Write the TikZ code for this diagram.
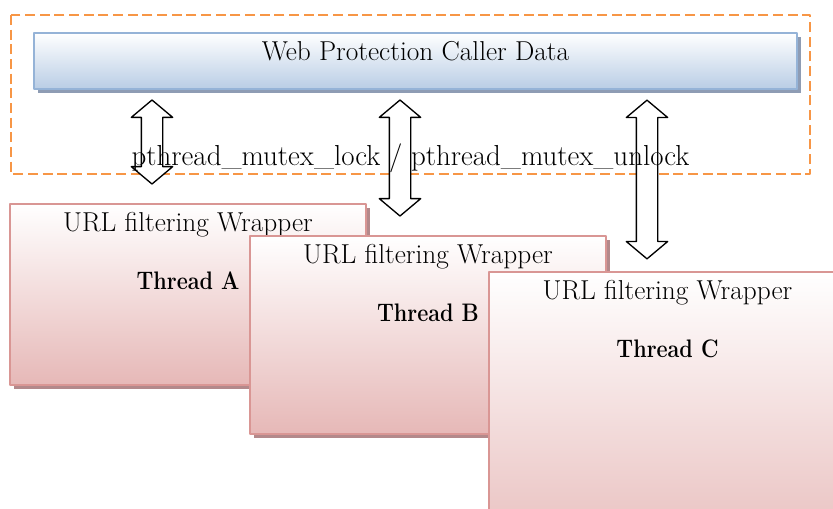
\documentclass[tikz,border=0pt]{standalone}
\usetikzlibrary{shapes.arrows}
\definecolor{lockorange}{HTML}{F79646}
\definecolor{barblue}{HTML}{B9CDE5}
\definecolor{barline}{HTML}{95B3D7}
\definecolor{barshade}{HTML}{8E9CB4}
\definecolor{thrpink}{HTML}{E6B8B7}
\definecolor{thrline}{HTML}{D99694}
\definecolor{thrshade}{HTML}{B3898B}
\tikzset{
	dblarrow/.style={double arrow,draw=black,fill=white,line width=1pt,rotate=90,minimum width=0pt,inner xsep=0pt,inner ysep=7.5pt,double arrow head extend=7.5pt,double arrow tip angle=100},
	thrtitle/.style={anchor=base},
	thrname/.style={anchor=base,font=\fontsize{19}{22}\selectfont\bfseries}
}
\begin{document}
\begin{tikzpicture}[x=0.75pt,y=-0.75pt,line join=round,font=\fontsize{20.5}{24}\selectfont]
				\useasboundingbox (0,0) rectangle (833,508);
				\clip (0,0) rectangle (833,508);
				\path
				(11,15) coordinate (L1)
				(810,174) coordinate (L2)
				(34,33) coordinate (D1)
				(797,89) coordinate (D2)
				;
				\draw[lockorange,line width=2pt,dash pattern=on 7.5pt off 3.5pt] (L1) rectangle (L2);
				\fill[barshade] ([shift={(4,4)}]D1) rectangle ([shift={(4,4)}]D2);
				\shade[top color=white,bottom color=barblue,draw=barline,line width=1.5pt] (D1) rectangle (D2);
				\node[anchor=base] (data) at (415.5,60) {Web Protection Caller Data};
				\foreach \n/\l/\t/\r/\b in {A/10/204/366/385,B/250/236/606/434,C/489/272/846/580}{
					\fill[thrshade] ({\l+4},{\t+4}) rectangle ({\r+4},{\b+4});
					\shade[top color=white,bottom color=thrpink,draw=thrline,line width=1.5pt] (\l,\t) rectangle (\r,\b);
					\node[thrtitle] (wrap\n) at ({(\l+\r)/2},{\t+27}) {URL filtering Wrapper};
					\node[thrname] (thr\n) at ({(\l+\r)/2},{\t+85}) {\scalebox{0.85}[1]{Thread \n}};
				}
				\node[dblarrow,minimum height=63pt] (arrA) at (152,142) {};
				\node[dblarrow,minimum height=87pt] (arrB) at (400,158) {};
				\node[dblarrow,minimum height=119pt] (arrC) at (647,179.5) {};
				\node[anchor=base,font=\fontsize{21.7}{26}\selectfont] (lock) at (410.5,165) {pthread\_mutex\_lock / pthread\_mutex\_unlock};
			\end{tikzpicture}
\end{document}
